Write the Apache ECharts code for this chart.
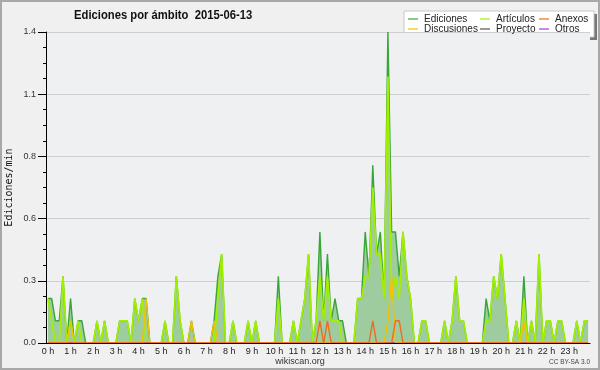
<!DOCTYPE html>
<html><head><meta charset="utf-8">
<script src="https://cdn.jsdelivr.net/npm/echarts@6/dist/echarts.min.js"></script>
<style>html,body{margin:0;padding:0;background:#f0f0f0}#c{width:600px;height:370px}</style>
</head><body><div id="c"></div>
<script>
// Tick labels (one per hour)
const hourLabels = ['0 h','1 h','2 h','3 h','4 h','5 h','6 h','7 h','8 h','9 h','10 h','11 h',
  '12 h','13 h','14 h','15 h','16 h','17 h','18 h','19 h','20 h','21 h','22 h','23 h'];
const yTickLabels = ['0.0','0.3','0.6','0.8','1.1','1.4'];

// Edits per minute, 10-minute bins (144 per day)
const ediciones = [
  .2,.2,.1,.1,.3,0, .2,0,.1,.1,0,0,
  0,.1,0,.1,0,0, 0,.1,.1,.1,0,.2,
  .1,.2,.2,0,0,0, 0,.1,0,0,.3,.1,
  0,0,.1,0,0,0, 0,0,.1,.3,.4,0,
  0,.1,0,0,0,.1, 0,.1,0,0,0,0,
  0,.3,0,0,0,.1, 0,.1,.2,.4,0,.1,
  .5,.1,.4,.1,.2,.1, .1,0,0,0,.2,.2,
  .5,.3,.8,.4,.5,.2, 1.4,.5,.5,.3,.5,.3,
  .2,0,0,.1,.1,0, 0,0,0,.1,0,.1,
  .3,.1,.1,0,0,0, 0,0,.2,.1,.3,.2,
  .4,.2,0,0,.1,0, .3,0,.1,0,.4,0,
  .1,.1,0,.1,.1,0, 0,0,.1,0,.1,.1
];
const articulos = [
  .2,.1,0,0,.3,0, .1,0,.1,0,0,0,
  0,.1,0,.1,0,0, 0,.1,.1,.1,0,.2,
  .1,.2,0,0,0,0, 0,.1,0,0,.3,.1,
  0,0,0,0,0,0, 0,0,0,.2,.4,0,
  0,.1,0,0,0,.1, 0,.1,0,0,0,0,
  0,.2,0,0,0,.1, 0,.1,.2,.4,0,.1,
  .3,.1,.3,.1,.1,.1, 0,0,0,0,.2,.2,
  .3,.3,.7,.4,.4,.2, 1.2,.2,.3,.2,.5,.3,
  .2,0,0,.1,.1,0, 0,0,0,.1,0,.1,
  .3,.1,.1,0,0,0, 0,0,.1,.1,.3,.2,
  .4,.2,0,0,.1,0, .2,0,.1,0,.4,0,
  .1,.1,0,.1,.1,0, 0,0,.1,0,.1,.1
];
const discusiones = [
  0,0,0,0,0,0, .1,0,0,0,0,0,
  0,0,0,0,0,0, 0,0,0,0,0,0,
  0,0,.2,0,0,0, 0,0,0,0,0,0,
  0,0,.1,0,0,0, 0,0,.1,0,0,0,
  0,0,0,0,0,0, 0,0,0,0,0,0,
  0,0,0,0,0,0, 0,0,0,0,0,0,
  0,0,0,0,0,0, 0,0,0,0,0,0,
  0,0,0,0,0,0, .1,.3,0,0,0,0,
  0,0,0,0,0,0, 0,0,0,0,0,0,
  0,0,0,0,0,0, 0,0,0,0,0,0,
  0,0,0,0,0,0, .1,0,0,0,0,0,
  0,0,0,0,0,0, 0,0,0,0,0,0
];
const anexos = [
  0,0,0,0,0,0, 0,0,0,0,0,0,
  0,0,0,0,0,0, 0,0,0,0,0,0,
  0,0,0,0,0,0, 0,0,0,0,0,0,
  0,0,0,0,0,0, 0,0,0,0,0,0,
  0,0,0,0,0,0, 0,0,0,0,0,0,
  0,0,0,0,0,0, 0,0,0,0,0,0,
  .1,0,.1,0,0,0, 0,0,0,0,0,0,
  0,0,.1,0,0,0, 0,0,.1,.1,0,0,
  0,0,0,0,0,0, 0,0,0,0,0,0,
  0,0,0,0,0,0, 0,0,0,0,0,0,
  0,0,0,0,0,0, 0,0,0,0,0,0,
  0,0,0,0,0,0, 0,0,0,0,0,0
];
const proyecto = [
  0,0,0,0,0,0, 0,0,0,0,0,0, 0,0,0,0,0,0, 0,0,0,0,0,0,
  0,0,0,0,0,0, 0,0,0,0,0,0, 0,0,0,0,0,0, 0,0,0,0,0,0,
  0,0,0,0,0,0, 0,0,0,0,0,0, 0,0,0,0,0,0, 0,0,0,0,0,0,
  0,0,0,0,0,0, 0,0,0,0,0,0, 0,0,0,0,0,0, 0,0,0,0,0,0,
  0,0,0,0,0,0, 0,0,0,0,0,0, 0,0,0,0,0,0, 0,0,0,0,0,0,
  0,0,0,0,0,0, 0,0,0,0,0,0, 0,0,0,0,0,0, 0,0,0,0,0,0
];
const otros = [
  0,0,0,0,0,0, 0,0,0,0,0,0, 0,0,0,0,0,0, 0,0,0,0,0,0,
  0,0,0,0,0,0, 0,0,0,0,0,0, 0,0,0,0,0,0, 0,0,0,0,0,0,
  0,0,0,0,0,0, 0,0,0,0,0,0, 0,0,0,0,0,0, 0,0,0,0,0,0,
  0,0,0,0,0,0, 0,0,0,0,0,0, 0,0,0,0,0,0, 0,0,0,0,0,0,
  0,0,0,0,0,0, 0,0,0,0,0,0, 0,0,0,0,0,0, 0,0,0,0,0,0,
  0,0,0,0,0,0, 0,0,0,0,0,0, 0,0,0,0,0,0, 0,0,0,0,0,0
];

// 10-minute bin categories
const bins = [];
for (let h = 0; h < 24; h++) for (let m = 0; m < 60; m += 10) bins.push(h + ':' + (m < 10 ? '0' : '') + m);

const FONT = 'Liberation Sans';
const chart = echarts.init(document.getElementById('c'), null, {renderer: 'canvas'});

function lineSeries(name, data, color, z, width, extra) {
  return Object.assign({
    name, type: 'line', data, symbol: 'none', showSymbol: false, z,
    itemStyle: {color}, lineStyle: {color, width}, emphasis: {disabled: true}
  }, extra || {});
}

const legendCommon = {
  orient: 'vertical', icon: 'rect', itemWidth: 10, itemHeight: 1.2, itemGap: 0,
  textStyle: {fontFamily: FONT, fontSize: 10, color: '#222', lineHeight: 10, padding: [0, 0, 0, 1]},
  selectedMode: false, top: 14, padding: 0
};

chart.setOption({
  animation: false,
  backgroundColor: '#f0f0f0',
  legend: [
    Object.assign({left: 408, data: ['Ediciones', 'Discusiones']}, legendCommon),
    Object.assign({left: 480, data: ['Artículos', 'Proyecto']}, legendCommon),
    Object.assign({left: 539, data: ['Anexos', 'Otros']}, legendCommon)
  ],
  grid: {left: 46, right: 10, top: 32, bottom: 27, show: true, backgroundColor: '#eef0f2', borderWidth: 0,
    containLabel: false, outerBoundsMode: 'none'},
  xAxis: {
    type: 'category', data: bins, boundaryGap: true, z: 5,
    axisLine: {lineStyle: {color: '#000', width: 1}},
    axisTick: {interval: 0, length: 3, lineStyle: {color: '#000'}},
    axisLabel: {
      interval: 5, margin: 4, fontFamily: FONT, fontSize: 9, color: '#222',
      formatter: (v, idx) => hourLabels[Math.floor(idx / 6)]
    },
    splitLine: {show: false}
  },
  yAxis: {
    type: 'value', min: 0, max: 1.4, interval: 0.28,
    name: 'Ediciones/min', nameLocation: 'middle', nameGap: 32, nameMoveOverlap: false,
    nameTextStyle: {fontFamily: 'DejaVu Sans Mono', fontSize: 10, color: '#111'},
    axisLine: {show: true, lineStyle: {color: '#000'}},
    axisTick: {show: true, length: 8, lineStyle: {color: '#000'}},
    minorTick: {show: true, splitNumber: 4, length: 3, lineStyle: {color: '#000'}},
    axisLabel: {
      margin: 10, fontFamily: FONT, fontSize: 9, color: '#333',
      formatter: (v) => yTickLabels[Math.round(v / 0.28)]
    },
    splitLine: {show: true, lineStyle: {color: '#cfcfcf', width: 1}}
  },
  series: [
    lineSeries('Ediciones', ediciones, '#38a538', 2, 1.4, {areaStyle: {color: '#9fcc9f', opacity: 1}}),
    lineSeries('Artículos', articulos, '#a2f000', 3, 1.7),
    lineSeries('Proyecto', proyecto, '#555555', 3, 1.4),
    lineSeries('Otros', otros, '#9a40e8', 3, 1.4),
    lineSeries('Discusiones', discusiones, '#f2c200', 4, 1.4),
    lineSeries('Anexos', anexos, '#f06a20', 4, 1.4)
  ],
  graphic: [
    {type: 'rect', shape: {x: 1, y: 1, width: 598, height: 368}, style: {fill: 'none', stroke: '#a8a8a8', lineWidth: 2}, silent: true, z: 100},
    {type: 'rect', shape: {x: 407, y: 14, width: 190, height: 26}, style: {fill: '#777777'}, silent: true, z: -1},
    {type: 'rect', shape: {x: 404, y: 11, width: 190, height: 26}, style: {fill: '#ffffff', stroke: '#c8c8c8', lineWidth: 1}, silent: true, z: -1},
    {type: 'text', x: 74, y: 9, scaleX: 0.9, style: {text: 'Ediciones por ámbito  2015-06-13', fontFamily: FONT, fontSize: 12.5, fontWeight: 'bold', fill: '#111', align: 'left', verticalAlign: 'top'}, silent: true},
    {type: 'text', x: 300, y: 362, style: {text: 'wikiscan.org', fontFamily: FONT, fontSize: 9, fill: '#333', align: 'center', verticalAlign: 'middle'}, silent: true},
    {type: 'text', x: 590, y: 362, style: {text: 'CC BY-SA 3.0', fontFamily: FONT, fontSize: 6.5, fill: '#444', align: 'right', verticalAlign: 'middle'}, silent: true}
  ]
});
</script>
</body></html>
